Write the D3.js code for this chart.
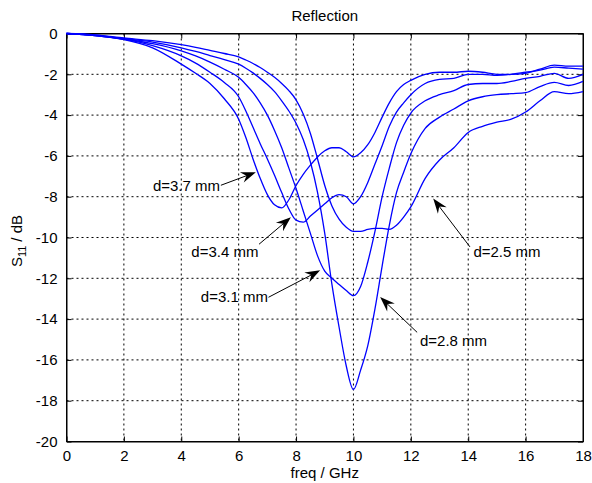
<!DOCTYPE html>
<html><head><meta charset="utf-8">
<script src="https://cdn.jsdelivr.net/npm/d3@7"></script>
<style>
body{margin:0;background:#fff}
text{font-family:"Liberation Sans",Arial,Helvetica,sans-serif;fill:#000}
</style>
</head><body>
<svg id="chart" width="592" height="483"></svg>
<script>
// ---------- data ----------
const freq = [0,1,2,3,4,4.5,5,5.5,6,6.25,6.5,6.75,7,7.25,7.5,7.75,8,8.25,8.5,8.75,9,9.25,9.5,9.75,10,10.25,10.5,10.75,11,11.25,11.5,11.75,12,12.5,13,13.5,14,14.5,15,15.5,16,16.5,17,17.5,18];
const d37 = [0,-0.1,-0.3,-0.7,-1.5,-1.95,-2.45,-3.2,-4.2,-5.1,-6.15,-7.1,-7.9,-8.4,-8.55,-8.15,-7.45,-6.9,-6.45,-6.05,-5.75,-5.6,-5.6,-5.8,-6.05,-5.85,-5.45,-4.85,-4.1,-3.4,-2.85,-2.5,-2.3,-2.0,-1.9,-1.9,-1.85,-1.9,-2.0,-2.0,-1.95,-1.75,-1.55,-1.6,-1.6];
const d34 = [0,-0.1,-0.28,-0.6,-1.1,-1.45,-1.9,-2.4,-3.1,-3.8,-4.6,-5.4,-6.15,-6.95,-7.8,-8.6,-9.15,-9.25,-8.95,-8.65,-8.35,-8.05,-7.9,-8.0,-8.35,-8.0,-7.3,-6.4,-5.5,-4.55,-3.85,-3.4,-3.0,-2.45,-2.25,-2.2,-2.0,-2.0,-2.05,-2.0,-1.9,-1.8,-1.65,-1.7,-1.75];
const d31 = [0,-0.1,-0.27,-0.5,-0.85,-1.1,-1.4,-1.75,-2.15,-2.5,-2.9,-3.4,-4.0,-4.75,-5.6,-6.6,-7.6,-8.7,-9.8,-10.9,-11.65,-12.0,-12.3,-12.6,-12.85,-12.4,-11.2,-9.7,-8.0,-6.6,-5.35,-4.5,-3.9,-3.3,-3.0,-2.8,-2.5,-2.45,-2.45,-2.35,-2.2,-2.1,-1.95,-2.2,-2.0];
const d28 = [0,-0.08,-0.25,-0.42,-0.7,-0.88,-1.08,-1.28,-1.5,-1.7,-1.93,-2.2,-2.5,-2.85,-3.3,-3.8,-4.4,-5.2,-6.3,-7.8,-9.8,-12.3,-14.4,-16.3,-17.45,-16.5,-15.3,-13.5,-11.4,-9.4,-7.8,-6.8,-5.9,-4.65,-4.1,-3.7,-3.3,-3.1,-3.0,-2.95,-2.9,-2.6,-2.4,-2.55,-2.35];
const d25 = [0,-0.07,-0.22,-0.35,-0.55,-0.68,-0.83,-0.98,-1.15,-1.3,-1.47,-1.67,-1.9,-2.15,-2.45,-2.8,-3.25,-3.95,-4.9,-6.15,-7.45,-8.45,-9.1,-9.5,-9.7,-9.7,-9.6,-9.55,-9.55,-9.6,-9.4,-9.0,-8.5,-7.1,-6.2,-5.6,-4.85,-4.55,-4.35,-4.2,-3.85,-3.3,-2.85,-2.95,-2.85];
const seriesNames = ["d=3.7 mm","d=3.4 mm","d=3.1 mm","d=2.8 mm","d=2.5 mm"];
const seriesValues = [d37,d34,d31,d28,d25];
const xTicks = [0,2,4,6,8,10,12,14,16,18];
const yTicks = [0,-2,-4,-6,-8,-10,-12,-14,-16,-18,-20];
// annotation anchors in data units (GHz, dB)
const labelTip  = [[6.60,-6.80],[7.82,-9.01],[8.84,-11.61],[10.93,-12.92],[12.78,-8.09]];
const labelTail = [[5.38,-7.44],[6.71,-10.33],[7.04,-12.93],[12.22,-14.65],[14.06,-10.46]];
const labelText = [[5.35,-7.71,"end"],[6.69,-10.98,"end"],[7.02,-13.16,"end"],[12.32,-15.34,"start"],[14.18,-10.98,"start"]];

// ---------- layout ----------
const svg = d3.select("#chart");
const L = 66.5, R = 583, T = 33.5, B = 441.5;
const x = d3.scaleLinear().domain([0,18]).range([L,R]);
const y = d3.scaleLinear().domain([-20,0]).range([B,T]);
const FS = 15;

// grid
const grid = svg.append("g").attr("stroke","#000").attr("stroke-width",1).attr("stroke-dasharray","2,3");
xTicks.filter(t=>t>0 && t<18).forEach(t=>{
  grid.append("line").attr("x1",x(t)).attr("x2",x(t)).attr("y1",T).attr("y2",B);
});
yTicks.filter(t=>t<0 && t>-20).forEach(t=>{
  grid.append("line").attr("y1",y(t)).attr("y2",y(t)).attr("x1",L).attr("x2",R);
});

// axes (ticks inward, all four sides)
const tl = 5;
const axB = svg.append("g").attr("transform",`translate(0,${B})`)
  .call(d3.axisBottom(x).tickValues(xTicks).tickSizeInner(-tl).tickSizeOuter(0).tickPadding(9));
const axL = svg.append("g").attr("transform",`translate(${L},0)`)
  .call(d3.axisLeft(y).tickValues(yTicks).tickSizeInner(-tl).tickSizeOuter(0).tickPadding(9));
const axT = svg.append("g").attr("transform",`translate(0,${T})`)
  .call(d3.axisTop(x).tickValues(xTicks).tickSizeInner(-tl).tickSizeOuter(0).tickFormat(""));
const axR = svg.append("g").attr("transform",`translate(${R},0)`)
  .call(d3.axisRight(y).tickValues(yTicks).tickSizeInner(-tl).tickSizeOuter(0).tickFormat(""));
[axB,axL,axT,axR].forEach(a=>{
  a.select(".domain").attr("stroke","#000");
  a.selectAll(".tick line").attr("stroke","#000");
  a.selectAll("text").attr("font-size",FS).attr("font-family",null).attr("fill","#000");
});
axL.selectAll("text").text(d=>String(d));
svg.append("rect").attr("x",L).attr("y",T).attr("width",R-L).attr("height",B-T)
  .attr("fill","none").attr("stroke","#000").attr("stroke-width",1);

// curves
const line = d3.line().x((d,i)=>x(freq[i])).y(d=>y(d)).curve(d3.curveMonotoneX);
svg.append("g").selectAll("path").data(seriesValues).join("path")
  .attr("d",line).attr("fill","none").attr("stroke","#0000ff").attr("stroke-width",1.3);

// annotations
const ann = svg.append("g");
seriesNames.forEach((name,i)=>{
  const [tx,ty] = [x(labelTip[i][0]), y(labelTip[i][1])];
  const [sx,sy] = [x(labelTail[i][0]), y(labelTail[i][1])];
  const ang = Math.atan2(ty-sy, tx-sx)*180/Math.PI;
  const len = Math.hypot(tx-sx, ty-sy);
  ann.append("line").attr("x1",sx).attr("y1",sy).attr("x2",tx-(tx-sx)/len*8).attr("y2",ty-(ty-sy)/len*8)
    .attr("stroke","#000").attr("stroke-width",1);
  ann.append("path").attr("d","M0,0 L-15,-5.5 L-10,0 L-15,5.5 Z")
    .attr("transform",`translate(${tx},${ty}) rotate(${ang})`).attr("fill","#000");
  const lt = labelText[i];
  ann.append("text").attr("x",x(lt[0])).attr("y",y(lt[1])).attr("text-anchor",lt[2])
    .attr("font-size",FS).text(name);
});

// title and axis labels
svg.append("text").attr("x",(L+R)/2).attr("y",21).attr("text-anchor","middle").attr("font-size",FS).text("Reflection");
svg.append("text").attr("x",(L+R)/2).attr("y",477.5).attr("text-anchor","middle").attr("font-size",FS).text("freq / GHz");
const yl = svg.append("text").attr("transform","translate(22,241) rotate(-90)").attr("text-anchor","middle").attr("font-size",FS);
yl.append("tspan").text("S");
yl.append("tspan").attr("dy",4).attr("font-size",FS*0.72).text("11");
yl.append("tspan").attr("dy",-4).text(" / dB");
</script>
</body></html>
